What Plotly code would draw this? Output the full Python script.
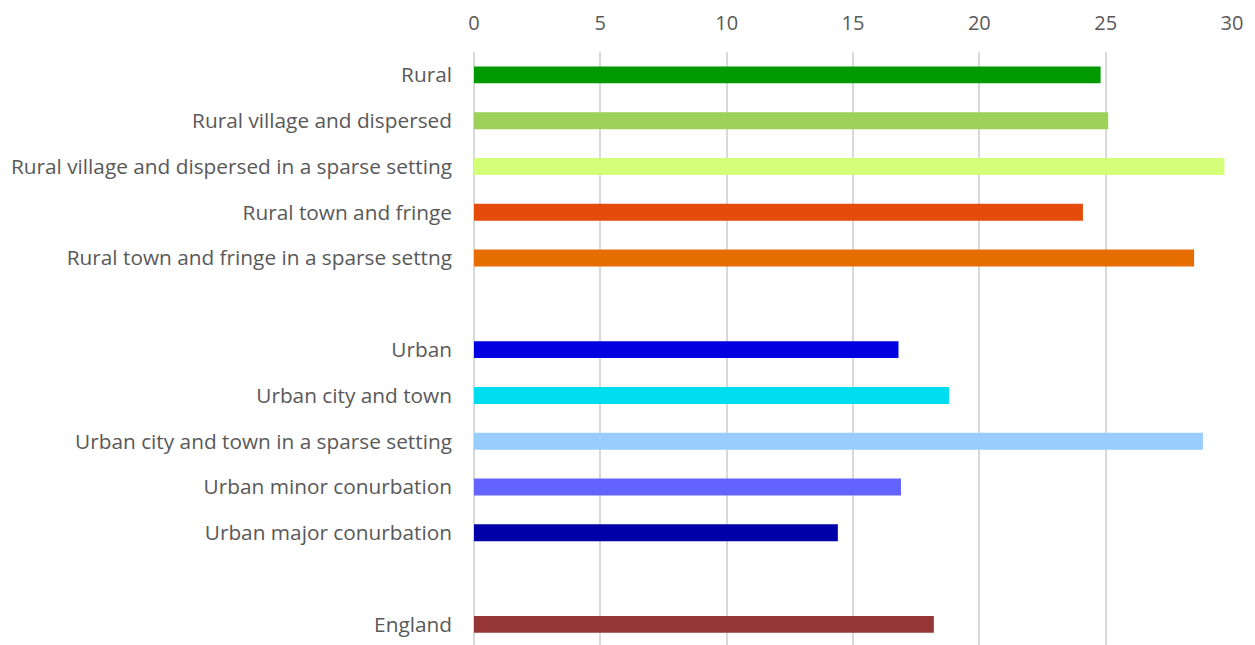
import plotly.graph_objects as go

categories = [
    "Rural",
    "Rural village and dispersed",
    "Rural village and dispersed in a sparse setting",
    "Rural town and fringe",
    "Rural town and fringe in a sparse settng",
    " ",
    "Urban",
    "Urban city and town",
    "Urban city and town in a sparse setting",
    "Urban minor conurbation",
    "Urban major conurbation",
    "  ",
    "England",
]
values = [24.8, 25.1, 29.7, 24.1, 28.5, None, 16.8, 18.8, 28.85, 16.9, 14.4, None, 18.2]
colors = ["#009900", "#9ED15A", "#D4FF78", "#E54B0B", "#E66E00", "#FFFFFF",
          "#0000E1", "#00DCF0", "#99CCFF", "#6363FF", "#0000A8", "#FFFFFF", "#963535"]
tick_vals = [0, 5, 10, 15, 20, 25, 30]

fig = go.Figure(go.Bar(
    x=values, y=categories, orientation="h",
    marker=dict(color=colors, line=dict(width=0)),
    width=0.37,
))

fig.update_layout(
    width=1247, height=637,
    margin=dict(l=466, r=23, t=44, b=0),
    paper_bgcolor="white", plot_bgcolor="white",
    font=dict(family="Open Sans", size=20, color="#595959"),
    showlegend=False,
    xaxis=dict(
        side="top", range=[0, 30], tickvals=tick_vals,
        showgrid=True, gridcolor="#D9D9D9", gridwidth=2,
        zeroline=True, zerolinecolor="#D9D9D9", zerolinewidth=2,
        showline=False, ticks="", ticklabelstandoff=17,
        tickfont=dict(size=20, color="#595959"),
    ),
    yaxis=dict(
        type="category", categoryorder="array", categoryarray=categories,
        range=[12.45, -0.5], showgrid=False, ticks="",
        ticklabelstandoff=21, tickfont=dict(size=20.8, color="#595959"),
    ),
)

fig.write_html("out.html")
